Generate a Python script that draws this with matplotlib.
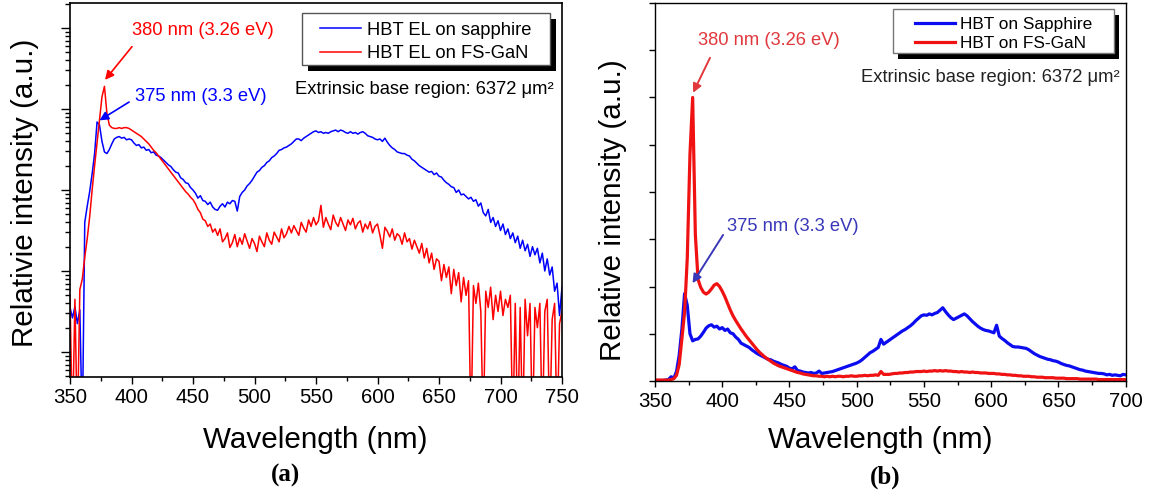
import numpy as np
import matplotlib
matplotlib.use("Agg")
import matplotlib.pyplot as plt
from matplotlib.ticker import LogLocator, NullFormatter, MultipleLocator
from matplotlib.patches import Rectangle

plt.rcParams['font.family'] = ['Liberation Sans', 'DejaVu Sans']

# ---------------- data: panel (a), log10 of relative intensity ----------------
wl_a = np.arange(350, 751, 2)
blue_a_log = [
    0.55, 0.42, 0.56, 0.35, 0.52, -1.0, 1.60, 1.80, 1.98, 2.20,
    2.45, 2.84, 2.80, 2.60, 2.47, 2.45, 2.50, 2.57, 2.63, 2.65,
    2.66, 2.64, 2.65, 2.62, 2.63, 2.62, 2.58, 2.55, 2.56, 2.52,
    2.53, 2.49, 2.50, 2.46, 2.47, 2.43, 2.42, 2.40, 2.37, 2.34,
    2.31, 2.29, 2.25, 2.22, 2.21, 2.15, 2.13, 2.09, 2.08, 2.03,
    2.00, 1.96, 1.90, 1.93, 1.87, 1.86, 1.82, 1.85, 1.79, 1.76,
    1.75, 1.80, 1.83, 1.79, 1.85, 1.83, 1.87, 1.86, 1.74, 1.92,
    1.97, 2.00, 2.05, 2.08, 2.12, 2.17, 2.22, 2.24, 2.28, 2.30,
    2.34, 2.36, 2.40, 2.42, 2.45, 2.49, 2.50, 2.52, 2.53, 2.55,
    2.57, 2.60, 2.63, 2.63, 2.61, 2.64, 2.66, 2.68, 2.70, 2.72,
    2.73, 2.71, 2.72, 2.70, 2.71, 2.70, 2.72, 2.73, 2.74, 2.72,
    2.74, 2.73, 2.71, 2.70, 2.72, 2.70, 2.71, 2.69, 2.71, 2.72,
    2.70, 2.67, 2.66, 2.65, 2.63, 2.62, 2.63, 2.60, 2.64, 2.59,
    2.55, 2.52, 2.50, 2.47, 2.46, 2.45, 2.45, 2.43, 2.42, 2.38,
    2.36, 2.33, 2.30, 2.28, 2.26, 2.24, 2.22, 2.23, 2.19, 2.21,
    2.17, 2.16, 2.12, 2.09, 2.07, 2.04, 2.03, 1.97, 2.00, 1.94,
    1.95, 1.92, 1.89, 1.91, 1.86, 1.88, 1.80, 1.84, 1.72, 1.68,
    1.76, 1.60, 1.66, 1.55, 1.62, 1.50, 1.58, 1.45, 1.52, 1.40,
    1.47, 1.35, 1.43, 1.28, 1.38, 1.25, 1.33, 1.18, 1.30, 1.20,
    1.28, 1.10, 1.22, 1.00, 1.15, 0.95, 1.05, 0.75, 0.85, 0.45,
    0.80,
]
red_a_log = [
    0.70, -1.00, 0.65, -1.00, 0.77, 0.90, 1.17, 1.40, 1.67, 2.00,
    2.30, 2.58, 2.86, 3.15, 3.28, 2.95, 2.80, 2.77, 2.76, 2.76,
    2.77, 2.76, 2.77, 2.77, 2.76, 2.74, 2.72, 2.70, 2.68, 2.66,
    2.63, 2.60, 2.57, 2.53, 2.49, 2.46, 2.42, 2.38, 2.34, 2.30,
    2.26, 2.22, 2.18, 2.14, 2.10, 2.06, 2.02, 1.98, 1.95, 1.91,
    1.88, 1.83, 1.76, 1.72, 1.64, 1.62, 1.55, 1.58, 1.48, 1.52,
    1.44, 1.52, 1.36, 1.40, 1.47, 1.29, 1.35, 1.45, 1.30, 1.41,
    1.33, 1.46, 1.37, 1.28, 1.40, 1.34, 1.24, 1.43, 1.36, 1.30,
    1.47, 1.38, 1.33, 1.48, 1.42, 1.36, 1.52, 1.41, 1.46, 1.55,
    1.47, 1.56, 1.50, 1.44, 1.60, 1.53, 1.48, 1.63, 1.55, 1.66,
    1.57, 1.62, 1.81, 1.54, 1.66, 1.58, 1.51, 1.69, 1.60, 1.55,
    1.66, 1.58, 1.50, 1.63, 1.57, 1.65, 1.52, 1.59, 1.62, 1.48,
    1.58, 1.52, 1.61, 1.47, 1.55, 1.58, 1.44, 1.28, 1.54, 1.49,
    1.42, 1.52, 1.38, 1.46, 1.43, 1.33, 1.47, 1.36, 1.40, 1.27,
    1.38, 1.30, 1.22, 1.34, 1.16, 1.28, 1.10, 1.22, 1.02, 1.15,
    1.12, 0.88, 1.08, 0.92, 1.05, 0.72, 1.02, 0.82, 0.98, 0.62,
    0.92, 0.70, 0.88, -1.00, 0.82, 0.60, 0.85, 0.50, -1.00, 0.75,
    0.55, 0.80, 0.40, 0.70, 0.50, 0.75, 0.45, 0.65, 0.55, 0.70,
    -1.00, 0.60, -1.00, 0.55, -1.00, 0.65, 0.20, 0.60, -1.00, 0.55,
    0.30, 0.60, -1.00, 0.50, 0.65, -1.00, 0.40, 0.60, -1.00, 0.35,
    0.50,
]

# ---------------- data: panel (b), linear relative intensity ----------------
wl_b = np.arange(350, 701, 2)
blue_b = [
    0.01, 0.01, 0.01, 0.01, 0.02, 0.03, 0.09, 0.06, 0.20, 0.55,
    1.10, 1.85, 1.60, 1.00, 0.85, 0.88, 0.89, 0.95, 1.03, 1.12,
    1.17, 1.19, 1.14, 1.16, 1.10, 1.13, 1.07, 1.10, 1.02, 1.00,
    0.93, 0.88, 0.80, 0.77, 0.74, 0.71, 0.66, 0.62, 0.58, 0.55,
    0.52, 0.49, 0.46, 0.45, 0.42, 0.40, 0.38, 0.35, 0.33, 0.31,
    0.27, 0.26, 0.30, 0.22, 0.21, 0.19, 0.18, 0.17, 0.18, 0.16,
    0.17, 0.21, 0.16, 0.17, 0.18, 0.19, 0.20, 0.22, 0.24, 0.26,
    0.28, 0.30, 0.32, 0.34, 0.36, 0.38, 0.41, 0.45, 0.50, 0.55,
    0.60, 0.63, 0.67, 0.71, 0.88, 0.78, 0.82, 0.86, 0.90, 0.94,
    0.98, 1.02, 1.06, 1.09, 1.13, 1.17, 1.22, 1.28, 1.33, 1.38,
    1.40, 1.39, 1.42, 1.40, 1.43, 1.45, 1.50, 1.55, 1.47, 1.40,
    1.34, 1.30, 1.33, 1.36, 1.39, 1.42, 1.38, 1.32, 1.26, 1.21,
    1.16, 1.12, 1.09, 1.07, 1.06, 1.04, 1.02, 1.18, 0.95, 0.90,
    0.86, 0.81, 0.77, 0.73, 0.72, 0.72, 0.71, 0.70, 0.69, 0.66,
    0.62, 0.58, 0.55, 0.52, 0.50, 0.48, 0.46, 0.45, 0.43, 0.42,
    0.40, 0.37, 0.35, 0.33, 0.32, 0.30, 0.28, 0.26, 0.24, 0.23,
    0.21, 0.20, 0.19, 0.18, 0.17, 0.16, 0.16, 0.15, 0.13, 0.14,
    0.12, 0.13, 0.12, 0.11, 0.14,
    0.13,
]
red_b = [
    0.02, 0.02, 0.02, 0.02, 0.02, 0.02, 0.03, 0.05, 0.12, 0.35,
    0.90, 1.45, 2.60, 4.80, 6.00, 3.10, 2.15, 1.98, 1.88, 1.84,
    1.88, 1.95, 2.03, 2.06, 2.00, 1.90, 1.78, 1.64, 1.50, 1.38,
    1.28, 1.19, 1.10, 1.02, 0.94, 0.87, 0.80, 0.73, 0.66, 0.60,
    0.55, 0.50, 0.46, 0.42, 0.38, 0.35, 0.32, 0.30, 0.28, 0.26,
    0.24, 0.22, 0.20, 0.18, 0.17, 0.15, 0.14, 0.13, 0.12, 0.11,
    0.11, 0.10, 0.10, 0.09, 0.10, 0.09, 0.10, 0.09, 0.10, 0.10,
    0.09, 0.10, 0.10, 0.11, 0.10, 0.10, 0.11, 0.11, 0.12, 0.11,
    0.12, 0.12, 0.13, 0.12, 0.20, 0.14, 0.14, 0.14, 0.15, 0.16,
    0.16, 0.17, 0.17, 0.18, 0.18, 0.19, 0.19, 0.20, 0.20, 0.20,
    0.21, 0.20, 0.21, 0.21, 0.22, 0.21, 0.22, 0.21, 0.22, 0.21,
    0.21, 0.20, 0.20, 0.19, 0.20, 0.19, 0.19, 0.18, 0.19, 0.18,
    0.18, 0.17, 0.17, 0.17, 0.16, 0.16, 0.16, 0.15, 0.15, 0.14,
    0.14, 0.13, 0.13, 0.12, 0.12, 0.11, 0.11, 0.10, 0.10, 0.10,
    0.09, 0.09, 0.08, 0.08, 0.08, 0.07, 0.07, 0.07, 0.07, 0.06,
    0.06, 0.06, 0.06, 0.05, 0.05, 0.05, 0.05, 0.05, 0.04, 0.04,
    0.04, 0.04, 0.04, 0.04, 0.04, 0.03, 0.03, 0.03, 0.03, 0.03,
    0.03, 0.03, 0.03, 0.03, 0.03,
    0.03,
]

labels_a = ['HBT EL on sapphire', 'HBT EL on FS-GaN']
labels_b = ['HBT on Sapphire', 'HBT on FS-GaN']
xticks_a = [350, 400, 450, 500, 550, 600, 650, 700, 750]
xticks_b = [350, 400, 450, 500, 550, 600, 650, 700]

# ---------------- layout helpers ----------------
W, H = 1156, 490
fig = plt.figure(figsize=(W / 100, H / 100), dpi=100)
fig.patch.set_facecolor('white')


def fx(px):
    return px / W


def fy(py):
    return 1 - py / H


BLUE_A, RED_A = '#0000ff', '#ff0000'
BLUE_B, RED_B = '#0c0cf0', '#f01212'

# ================= panel (a) =================
axA = fig.add_axes([fx(70), fy(377), 492 / W, 374 / H])
lA1, = axA.plot(wl_a, 10 ** np.array(blue_a_log), color=BLUE_A, lw=1.1, label=labels_a[0])
lA2, = axA.plot(wl_a, 10 ** np.array(red_a_log), color=RED_A, lw=1.1, label=labels_a[1])
axA.set_yscale('log')
axA.set_xlim(350, 750)
axA.set_ylim(10 ** -0.309, 10 ** 4.309)
axA.yaxis.set_major_locator(LogLocator(base=10, numticks=12))
axA.yaxis.set_minor_locator(LogLocator(base=10, subs=np.arange(2, 10), numticks=12))
axA.yaxis.set_major_formatter(NullFormatter())
axA.yaxis.set_minor_formatter(NullFormatter())
axA.set_xticks(xticks_a)
axA.xaxis.set_minor_locator(MultipleLocator(25))
axA.tick_params(axis='x', which='major', direction='out', length=5, width=1, labelsize=14.7, pad=3)
axA.tick_params(axis='x', which='minor', direction='out', length=3, width=1)
axA.tick_params(axis='y', which='major', direction='out', length=6.5, width=1, labelleft=False)
axA.tick_params(axis='y', which='minor', direction='out', length=3.5, width=1)
for s in axA.spines.values():
    s.set_linewidth(1.2)
axA.set_xlabel('Wavelength (nm)', fontsize=21.3, va='center')
axA.xaxis.set_label_coords((315.6 - 70) / 492, (377 - 440) / 374)
axA.set_ylabel('Relativie intensity (a.u.)', fontsize=21.3, va='center')
axA.yaxis.set_label_coords((24.7 - 70) / 492, (377 - 192.5) / 374)

axA.text(400.4, 10 ** 3.975, '380 nm (3.26 eV)', color=RED_A, fontsize=13.2, va='center', ha='left')
axA.annotate('', xy=(378.5, 10 ** 3.36), xytext=(400.4, 10 ** 3.77),
             arrowprops=dict(arrowstyle='-|>', color=RED_A, lw=1.2, mutation_scale=13,
                             shrinkA=0, shrinkB=0))
axA.text(402.8, 10 ** 3.16, '375 nm (3.3 eV)', color=BLUE_A, fontsize=13.2, va='center', ha='left')
axA.annotate('', xy=(374, 10 ** 2.86), xytext=(398, 10 ** 3.086),
             arrowprops=dict(arrowstyle='-|>', color=BLUE_A, lw=1.2, mutation_scale=13,
                             shrinkA=0, shrinkB=0))
fig.text(fx(295), fy(90), 'Extrinsic base region: 6372 μm²', fontsize=13.2, va='center', ha='left')

# legend shadow (a)
fig.patches.append(Rectangle((fx(308), fy(71)), (556 - 308) / W, (71 - 19) / H,
                             transform=fig.transFigure, facecolor='black', edgecolor='none',
                             zorder=3))
legA = axA.legend(handles=[lA1, lA2], loc='center left',
                  bbox_to_anchor=(fx(320), fy(42.0)), bbox_transform=fig.transFigure,
                  frameon=False, fontsize=13.2, handlelength=2.24, handletextpad=0.33,
                  labelspacing=0.37, borderpad=0, borderaxespad=0)

# ================= panel (b) =================
axB = fig.add_axes([fx(655), fy(381), 470.7 / W, 378 / H])
lB1, = axB.plot(wl_b, blue_b, color=BLUE_B, lw=2.3, label=labels_b[0])
lB2, = axB.plot(wl_b, red_b, color=RED_B, lw=2.3, label=labels_b[1])
axB.set_xlim(350, 700)
axB.set_ylim(0, 8)
axB.set_yticks(np.arange(0, 9, 1))
axB.yaxis.set_major_formatter(NullFormatter())
axB.set_xticks(xticks_b)
axB.xaxis.set_minor_locator(MultipleLocator(25))
axB.tick_params(axis='x', which='major', direction='out', length=4, width=1, labelsize=14.7, pad=4)
axB.tick_params(axis='x', which='minor', direction='out', length=3, width=1)
axB.tick_params(axis='y', which='major', direction='out', length=4.5, width=1, labelleft=False)
for s in axB.spines.values():
    s.set_linewidth(1.0)
axB.set_xlabel('Wavelength (nm)', fontsize=21.3, va='center')
axB.xaxis.set_label_coords((880 - 655) / 470.7, (381 - 440) / 378)
axB.set_ylabel('Relative intensity (a.u.)', fontsize=21.3, va='center')
axB.yaxis.set_label_coords((613 - 655) / 470.7, (381 - 210) / 378)

TXT_RED_B, TXT_BLUE_B = '#e0383c', '#3838b8'
axB.text(382.0, 7.2, '380 nm (3.26 eV)', color=TXT_RED_B, fontsize=13.2, va='center', ha='left')
axB.annotate('', xy=(378.3, 6.1), xytext=(390.9, 6.84),
             arrowprops=dict(arrowstyle='-|>', color=TXT_RED_B, lw=1.4, mutation_scale=13,
                             shrinkA=0, shrinkB=0))
axB.text(403.2, 3.26, '375 nm (3.3 eV)', color=TXT_BLUE_B, fontsize=13.2, va='center', ha='left')
axB.annotate('', xy=(377.9, 2.07), xytext=(400.6, 3.09),
             arrowprops=dict(arrowstyle='-|>', color=TXT_BLUE_B, lw=1.4, mutation_scale=13,
                             shrinkA=0, shrinkB=0))
fig.text(fx(861), fy(78), 'Extrinsic base region: 6372 μm²', fontsize=13.2, va='center', ha='left',
         color='#222222')

fig.patches.append(Rectangle((fx(898), fy(59)), (1119 - 898) / W, (59 - 15) / H,
                             transform=fig.transFigure, facecolor='black', edgecolor='none',
                             zorder=3))
legB = axB.legend(handles=[lB1, lB2], loc='center left',
                  bbox_to_anchor=(fx(915), fy(34.0)), bbox_transform=fig.transFigure,
                  frameon=False, fontsize=12.4, handlelength=2.33, handletextpad=0.29,
                  labelspacing=0.28, borderpad=0, borderaxespad=0)

# white legend boxes above the shadows, beneath the legend entries
boxA = Rectangle((fx(302), fy(65)), (550 - 302) / W, (65 - 13) / H, transform=fig.transFigure,
                 facecolor='white', edgecolor='#555555', lw=1.0, zorder=4)
boxB = Rectangle((fx(893), fy(53)), (1114 - 893) / W, (53 - 9) / H, transform=fig.transFigure,
                 facecolor='white', edgecolor='#777777', lw=1.0, zorder=4)
fig.patches.append(boxA)
fig.patches.append(boxB)

# move legends to figure level so they draw above the boxes
for ax, leg in ((axA, legA), (axB, legB)):
    leg.remove()
    fig.legends.append(leg)
    leg.set_figure(fig)
    leg.set_zorder(10)

fig.text(fx(286), fy(475), '(a)', fontsize=18, fontweight='bold', ha='center', va='center',
         family=['Liberation Serif', 'DejaVu Serif'])
fig.text(fx(885), fy(477), '(b)', fontsize=18, fontweight='bold', ha='center', va='center',
         family=['Liberation Serif', 'DejaVu Serif'])

fig.savefig('out.png', dpi=100, facecolor='white')
